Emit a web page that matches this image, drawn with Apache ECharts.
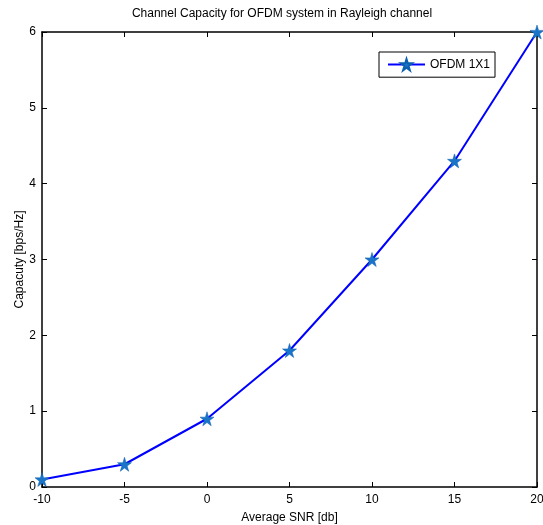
<!DOCTYPE html>
<html><head><meta charset="utf-8">
<script src="https://cdn.jsdelivr.net/npm/echarts@6/dist/echarts.min.js"></script>
<style>html,body{margin:0;padding:0;background:#fff}#c{width:543px;height:525px}</style>
</head><body><div id="c"></div>
<script>
const snr = [-10, -5, 0, 5, 10, 15, 20];
const capacity = [0.1, 0.3, 0.9, 1.8, 3.0, 4.3, 6.0];
const xTicks = [-10, -5, 0, 5, 10, 15, 20];
const yTicks = [0, 1, 2, 3, 4, 5, 6];
const seriesName = 'OFDM 1X1';

const star = 'path://M50,0 L61,35 L98,35 L68,57 L79,91 L50,70 L21,91 L32,57 L2,35 L39,35 Z';
const font = 'Liberation Sans, Arial, sans-serif';
const chart = echarts.init(document.getElementById('c'), null, {renderer: 'canvas'});
const axisCommon = {
  axisLine: {onZero: false, lineStyle: {color: '#000', width: 1.5}},
  axisTick: {inside: true, length: 5, lineStyle: {color: '#000'}},
  splitLine: {show: false},
  axisLabel: {color: '#000', fontFamily: font, fontSize: 12}
};
chart.setOption({
  animation: false,
  title: {text: 'Channel Capacity for OFDM system in Rayleigh channel', left: 277, top: 3, textAlign: 'center',
    textStyle: {fontFamily: font, fontSize: 12, fontWeight: 'normal', color: '#000'}},
  grid: {left: 42, right: 6, top: 32, bottom: 38, containLabel: false, outerBoundsMode: 'none'},
  legend: {show: true, left: 379, top: 52, orient: 'vertical', backgroundColor: '#fff', borderColor: '#000', borderWidth: 1,
    padding: [6, 5, 6, 8], itemWidth: 37, itemHeight: 14, itemGap: 0,
    textStyle: {fontFamily: font, fontSize: 12, color: '#000'}, data: [seriesName]},
  xAxis: [
    Object.assign({type: 'value', min: -10, max: 20, interval: 5, position: 'bottom',
      name: 'Average SNR [db]', nameLocation: 'middle', nameGap: 25, nameMoveOverlap: false,
      nameTextStyle: {fontFamily: font, fontSize: 12, color: '#000'}}, axisCommon,
      {axisLabel: Object.assign({}, axisCommon.axisLabel, {margin: 7, formatter: v => xTicks.includes(v) ? String(v) : ''})}),
    Object.assign({type: 'value', min: -10, max: 20, interval: 5, position: 'top'}, axisCommon, {axisLabel: {show: false}})
  ],
  yAxis: [
    Object.assign({type: 'value', min: 0, max: 6, interval: 1, position: 'left',
      name: 'Capacuty [bps/Hz]', nameLocation: 'middle', nameGap: 16, nameMoveOverlap: false,
      nameTextStyle: {fontFamily: font, fontSize: 12, color: '#000'}}, axisCommon,
      {axisLabel: Object.assign({}, axisCommon.axisLabel, {margin: 6, formatter: v => yTicks.includes(v) ? String(v) : ''})}),
    Object.assign({type: 'value', min: 0, max: 6, interval: 1, position: 'right'}, axisCommon, {axisLabel: {show: false}})
  ],
  series: [{
    name: seriesName, type: 'line', xAxisIndex: 0, yAxisIndex: 0,
    data: snr.map((x, i) => [x, capacity[i]]),
    symbol: star, symbolSize: 14, showAllSymbol: true,
    lineStyle: {color: '#0000ff', width: 2},
    itemStyle: {color: '#1a75c9', borderColor: '#0b5fb0', borderWidth: 0.5},
    clip: false
  }]
});
</script></body></html>
